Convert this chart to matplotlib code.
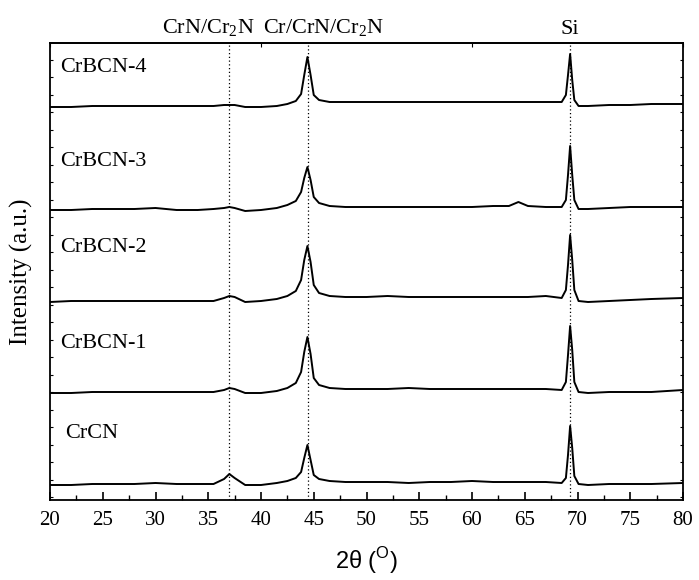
import numpy as np
import matplotlib
matplotlib.use("Agg")
import matplotlib.pyplot as plt
from matplotlib.ticker import MultipleLocator, FixedLocator

plt.rcParams["font.family"] = "Liberation Serif"
plt.rcParams["mathtext.fontset"] = "custom"
plt.rcParams["mathtext.rm"] = "Liberation Serif"
plt.rcParams["mathtext.sf"] = "Liberation Sans"

# 2theta sample points (deg)
two_theta = [20, 22, 24, 26, 28, 30, 32, 34, 35.5, 36.5, 37.0, 37.5, 38.5, 40, 41.5, 42.5,
             43.3, 43.8, 44.1, 44.4, 44.7, 45.0, 45.5, 46.5, 48, 50, 52, 54, 56, 58, 60, 62,
             63.5, 64.4, 65.3, 67, 68.5, 68.9, 69.1, 69.3, 69.5, 69.7, 70.1, 71, 73, 75, 77, 80]

# intensities (a.u., already stacked)
crcn = [15, 15, 16, 16, 16, 17, 16, 16, 16, 21, 26, 22, 15, 15, 17, 19,
        22, 28, 42, 55, 40, 25, 21, 19, 18, 18, 18, 17, 18, 18, 19, 18,
        18, 18, 18, 18, 17, 22, 45, 74, 52, 24, 16, 15, 16, 16, 16, 17]
crbcn1 = [107, 107, 108, 108, 108, 108, 108, 108, 108, 110, 112, 111, 107, 107, 109, 112,
          117, 128, 148, 163, 146, 122, 115, 112, 111, 111, 111, 112, 111, 111, 111, 111,
          111, 111, 111, 111, 110, 118, 145, 174, 150, 118, 108, 107, 108, 108, 108, 110]
crbcn2 = [198, 199, 199, 199, 199, 199, 199, 199, 199, 202, 204, 203, 198, 199, 201, 204,
          209, 220, 240, 254, 238, 215, 207, 204, 203, 203, 204, 203, 203, 203, 203, 203,
          203, 203, 203, 204, 202, 210, 235, 265, 240, 210, 199, 198, 199, 200, 201, 202]
crbcn3 = [290, 290, 291, 291, 291, 292, 290, 290, 291, 292, 293, 292, 289, 290, 292, 295,
          299, 308, 322, 333, 320, 303, 297, 294, 293, 293, 293, 293, 293, 293, 293, 294,
          294, 298, 294, 293, 293, 300, 325, 354, 325, 300, 291, 291, 292, 293, 293, 293]
crbcn4 = [393, 393, 394, 394, 394, 394, 394, 394, 394, 395, 395, 395, 393, 393, 394, 396,
          399, 406, 425, 443, 425, 405, 400, 398, 398, 398, 398, 398, 398, 398, 398, 398,
          398, 398, 398, 398, 398, 405, 425, 446, 420, 400, 394, 394, 395, 395, 396, 396]

series = [crcn, crbcn1, crbcn2, crbcn3, crbcn4]
names = ["CrCN", "CrBCN-1", "CrBCN-2", "CrBCN-3", "CrBCN-4"]
label_y = [67, 157, 253, 339, 432]
label_x = [21.4, 21.0, 21.0, 21.0, 21.0]

peak_pos = [37.0, 44.42, 69.28]
peak_names = ["CrN/Cr$_2$N", "Cr/CrN/Cr$_2$N", "Si"]
peak_text_x = [35.0, 45.9, 69.3]

fig = plt.figure(figsize=(6.99, 5.8), dpi=100)
ax = fig.add_axes([50 / 699, 80 / 580, 633 / 699, 457 / 580])

for y in series:
    ax.plot(two_theta, y, color="black", lw=1.4)

for p in peak_pos:
    ax.axvline(p, color="black", lw=0.9, ls=(0, (1, 2)))

for name, lx, ly in zip(names, label_x, label_y):
    ax.text(lx, ly, name, fontsize=16, va="center", ha="left")

for name, tx in zip(peak_names, peak_text_x):
    ax.text(tx, 1.008, name, transform=ax.get_xaxis_transform(), fontsize=16,
            ha="center", va="bottom")

ax.set_xlim(20, 80)
ax.set_ylim(0, 457)
ax.xaxis.set_major_locator(MultipleLocator(5))
ax.xaxis.set_minor_locator(MultipleLocator(2.5))
ax.yaxis.set_major_locator(FixedLocator(np.arange(3, 457, 17.5)))
ax.tick_params(axis="x", which="major", direction="in", length=6, width=1.2,
               labelsize=15, pad=8, top=False)
ax.tick_params(axis="x", which="minor", direction="in", length=3.5, width=1.0, top=False)
ax.tick_params(axis="y", which="major", direction="in", length=2.5, width=0.8,
               left=True, right=True, labelleft=False)

top = ax.secondary_xaxis("top")
top.set_xticks([20, 40, 60, 80])
top.tick_params(direction="in", length=3, width=0.8, labeltop=False)

for s in ax.spines.values():
    s.set_linewidth(1.3)
top.spines["top"].set_linewidth(1.3)

ax.set_ylabel("Intensity (a.u.)", fontsize=18, labelpad=12)
ax.set_xlabel(r"2θ ($^{\mathsf{O}}$)", fontsize=17, family="Liberation Sans", labelpad=11)

fig.savefig("out.png", dpi=100)
